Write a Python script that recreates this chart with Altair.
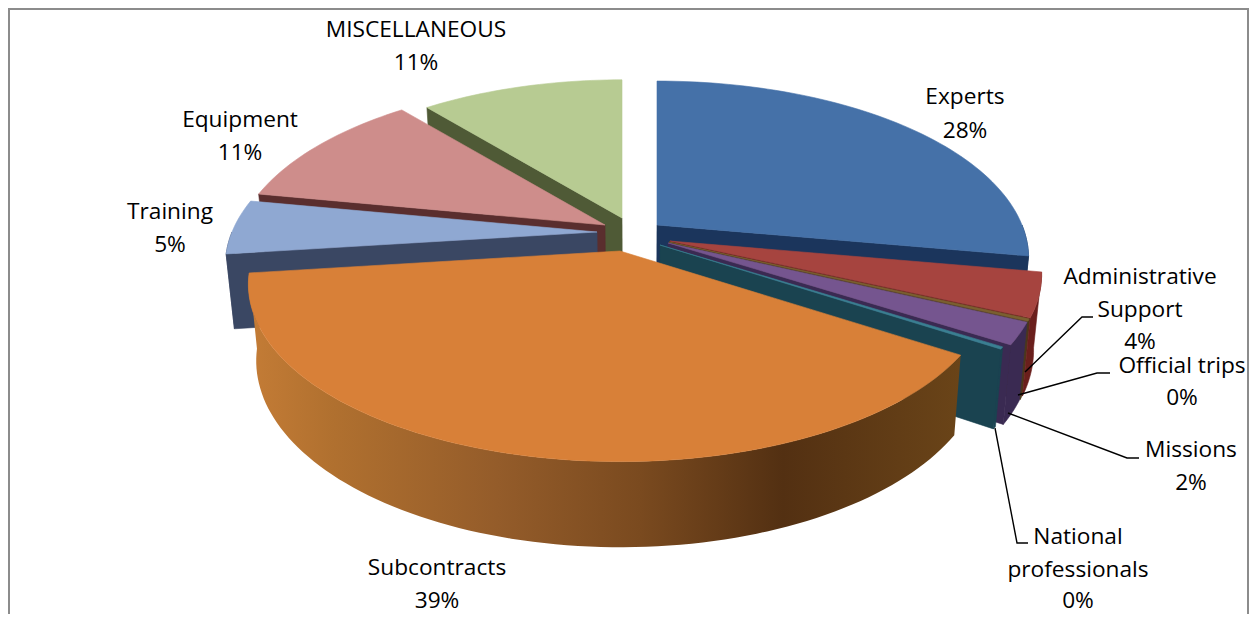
import math
import altair as alt
import pandas as pd

# ---- data ----
categories = ["Experts", "Administrative Support", "Official trips", "Missions",
              "National professionals", "Subcontracts", "Training", "Equipment", "MISCELLANEOUS"]
shares = [27.8, 4.0, 0.2, 2.0, 0.2, 38.8, 5.0, 11.0, 11.0]

# ---- styling / geometry, kept apart from the data ----
TOP = ["#4571a8", "#a6443f", "#7a6030", "#75558f", "#3a7f92", "#d88038", "#8fa8d2", "#ce8d8b", "#b7cb92"]
WALL = ["#1b355c", "#6a1f1c", "#4a3a1c", "#3a2a52", "#1a4350", "#8a5a2a", "#3a4763", "#5a2e2e", "#4f5a36"]
APEX = [(657, 225), (670, 241), (669, 242), (668, 243), (660, 245), (620, 251), (597, 232), (605, 225), (622, 218)]
RAD = [1.0, 1.0, 1.0, 1.0, 1.0, 1.0, 1.0, 1.0, 0.96]
A, B, K = 365.0, 171.0, 0.188
FONT = "Open Sans"
FS = 22.7
W, H = 1241, 606

side_gradient = {
    "gradient": "linear", "x1": 0, "x2": 1, "y1": 0, "y2": 0,
    "stops": [
        {"offset": 0.0, "color": "#c47c36"},
        {"offset": 0.12, "color": "#b0702f"},
        {"offset": 0.35, "color": "#945c2a"},
        {"offset": 0.55, "color": "#7a4a1f"},
        {"offset": 0.75, "color": "#533012"},
        {"offset": 1.0, "color": "#6a4418"},
    ],
}


def rim(i, deg):
    t = math.radians(deg)
    u, v = math.sin(t), math.cos(t)
    w = 1 + K * v
    ax, ay = APEX[i]
    return (ax + RAD[i] * A * u / w, ay - RAD[i] * B * v / w)


def drop(p):
    x, y = p
    return (640 + (x - 640) * 0.98, y + 66 + (y - 84) * 0.052)


def arc(i, a0, a1):
    n = max(2, int(abs(a1 - a0) / 1.5) + 2)
    return [rim(i, a0 + (a1 - a0) * j / (n - 1)) for j in range(n)]


x_enc = alt.X("x:Q", scale=alt.Scale(domain=[8, 8 + W], range=[0, W]), axis=None)
y_enc = alt.Y("y:Q", scale=alt.Scale(domain=[8, 8 + H], range=[0, H]), axis=None)


def polygon(points, fill, stroke=None):
    df = pd.DataFrame({"x": [p[0] for p in points], "y": [p[1] for p in points], "i": range(len(points))})
    return alt.Chart(df).mark_line(
        fill=fill, stroke=stroke or "transparent", strokeWidth=0.6,
        interpolate="linear-closed", clip=False,
    ).encode(x=x_enc, y=y_enc, order="i:Q")


def radial_wall(i, deg):
    ap = APEX[i]
    o = rim(i, deg)
    return polygon([ap, o, drop(o), drop(ap)], WALL[i], WALL[i])


def slice_layers(i, a0, a1):
    out = []
    # outer wall (only the near half of the rim shows)
    lo, hi = max(a0, 90), min(a1, 270)
    if lo < hi:
        pts = arc(i, lo, hi)
        fill = side_gradient if i == 5 else WALL[i]
        st = None if i == 5 else WALL[i]
        out.append(polygon(pts + [drop(p) for p in reversed(pts)], fill, st))
    # cut faces
    if a1 < 180:
        out.append(radial_wall(i, a1))
    if a0 > 180:
        out.append(radial_wall(i, a0))
    # top face
    out.append(polygon([APEX[i]] + arc(i, a0, a1), TOP[i], TOP[i]))
    return out


total = sum(shares)
edges = [0.0]
for s in shares:
    edges.append(edges[-1] + s / total * 360)

layers = []

# frame
frame_df = pd.DataFrame({"x": [9, 8 + W - 1, 8 + W - 1, 9], "y": [9, 9, 660, 660], "i": range(4)})
layers.append(alt.Chart(frame_df).mark_line(stroke="#8c8c8c", strokeWidth=2, interpolate="linear-closed",
                                            clip=True).encode(x=x_enc, y=y_enc, order="i:Q"))

# painter's order: back-left slices, then back-right ones, the big near slice last
for i in [8, 7, 6]:
    layers += slice_layers(i, edges[i], edges[i + 1])
for i in [0, 1, 2, 3, 4]:
    layers += slice_layers(i, edges[i], edges[i + 1])
layers += slice_layers(5, edges[5], edges[6])

# leader lines
leaders = [
    [(1025, 372), (1082, 317), (1093, 317)],
    [(1018, 395), (1097, 373), (1110, 373)],
    [(1008, 413), (1127, 458), (1139, 458)],
    [(995, 428), (1017, 543), (1028, 543)],
]
for pts in leaders:
    df = pd.DataFrame({"x": [p[0] for p in pts], "y": [p[1] for p in pts], "i": range(len(pts))})
    layers.append(alt.Chart(df).mark_line(stroke="#000000", strokeWidth=1.4).encode(x=x_enc, y=y_enc, order="i:Q"))

# labels: one text per line, percentage computed from the shares
label_lines = {
    "Experts": ["Experts"],
    "Administrative Support": ["Administrative", "Support"],
    "Official trips": ["Official trips"],
    "Missions": ["Missions"],
    "National professionals": ["National", "professionals"],
    "Subcontracts": ["Subcontracts"],
    "Training": ["Training"],
    "Equipment": ["Equipment"],
    "MISCELLANEOUS": ["MISCELLANEOUS"],
}
label_pos = {
    "Experts": (965, [97, 131]),
    "Administrative Support": (1140, [277, 310, 342]),
    "Official trips": (1182, [366, 398]),
    "Missions": (1191, [450, 483]),
    "National professionals": (1078, [537, 570, 601]),
    "Subcontracts": (437, [568, 601]),
    "Training": (170, [212, 245]),
    "Equipment": (240, [120, 153]),
    "MISCELLANEOUS": (416, [30, 63]),
}
rows = []
for c, s in zip(categories, shares):
    lx, ys = label_pos[c]
    for txt, ly in zip(label_lines[c] + [f"{round(s)}%"], ys):
        rows.append({"x": lx, "y": ly, "t": txt})
layers.append(alt.Chart(pd.DataFrame(rows)).mark_text(
    font=FONT, fontSize=FS, color="#000000", align="center", baseline="middle"
).encode(x=x_enc, y=y_enc, text="t:N"))

chart = alt.layer(*layers).properties(
    width=W, height=H, padding=0, autosize=alt.AutoSizeParams(type="none"), background="#ffffff"
).configure_view(stroke=None)

chart.save("out.html", embed_options={"renderer": "svg", "actions": False})
